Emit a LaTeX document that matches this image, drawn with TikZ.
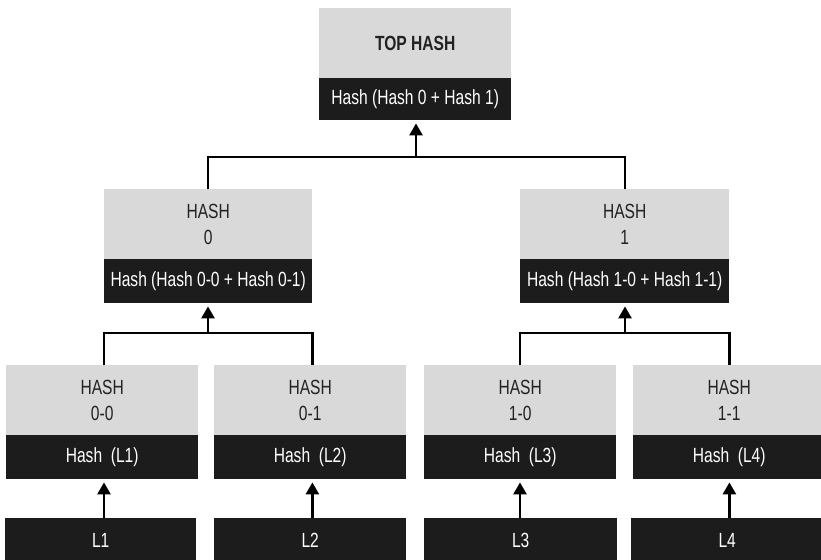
\documentclass[tikz,border=0pt]{standalone}
\usepackage{fontspec}
\setmainfont{Liberation Sans}[FakeStretch=0.76]
\usetikzlibrary{arrows.meta}
\definecolor{boxgray}{RGB}{217,217,217}
\definecolor{boxblack}{RGB}{28,28,28}
\definecolor{textdark}{RGB}{34,34,34}
\tikzset{
  lbl/.style={font=\fontsize{20.5}{26}\selectfont, align=center, inner sep=0pt, anchor=north west},
  gbox/.style={lbl, fill=boxgray, text=textdark, minimum height=70pt},
  bbox/.style={lbl, fill=boxblack, text=white, minimum height=44pt},
  bus/.style={line width=2.4pt, draw=black},
  arr/.style={line width=2.6pt, draw=black, -{Triangle[width=13pt,length=12pt]}, shorten >=3pt},
}
\begin{document}
\begin{tikzpicture}[x=1pt, y=-1pt]
\useasboundingbox (0,0) rectangle (821,559);
\clip (0,0) rectangle (821,559);

% root
\node[gbox, minimum width=192pt, minimum height=70pt] (topg) at (319,8) {\textbf{TOP HASH}};
\node[bbox, minimum width=192pt, minimum height=42pt] (topb) at (319,78) {Hash (Hash 0 + Hash 1)};

% second level
\node[gbox, minimum width=208pt] (h0g) at (104,189) {HASH\\0};
\node[bbox, minimum width=208pt] (h0b) at (104,259) {Hash (Hash 0-0 + Hash 0-1)};
\node[gbox, minimum width=209pt] (h1g) at (520,189) {HASH\\1};
\node[bbox, minimum width=209pt] (h1b) at (520,259) {Hash (Hash 1-0 + Hash 1-1)};

% third level
\node[gbox, minimum width=192pt] (h00g) at (6,365) {HASH\\0-0};
\node[bbox, minimum width=192pt] (h00b) at (6,435) {Hash\ \ (L1)};
\node[gbox, minimum width=192pt] (h01g) at (214,365) {HASH\\0-1};
\node[bbox, minimum width=192pt] (h01b) at (214,435) {Hash\ \ (L2)};
\node[gbox, minimum width=192pt] (h10g) at (424,365) {HASH\\1-0};
\node[bbox, minimum width=192pt] (h10b) at (424,435) {Hash\ \ (L3)};
\node[gbox, minimum width=192pt] (h11g) at (633,365) {HASH\\1-1};
\node[bbox, minimum width=192pt] (h11b) at (633,435) {Hash\ \ (L4)};

% leaves
\node[bbox, minimum width=191pt] (l1) at (5,518) {L1};
\node[bbox, minimum width=192pt] (l2) at (214,518) {L2};
\node[bbox, minimum width=193pt] (l3) at (424,518) {L3};
\node[bbox, minimum width=192pt] (l4) at (631,518) {L4};

% joins of the connector buses
\coordinate (jtop) at (416,157);
\coordinate (j0) at (208,333);
\coordinate (j1) at (625,333);

% root connector
\draw[bus] (h0g.north) |- (jtop) -| (h1g.north);
\draw[arr] (jtop) -- (topb.south -| jtop);

% second level connectors
\draw[bus] (h00g.north -| h0b.west) |- (j0) -| (h01g.north -| h0b.east);
\draw[arr] (j0) -- (h0b.south -| j0);
\draw[bus] (h10g.north -| h1b.west) |- (j1) -| (h11g.north -| h1b.east);
\draw[arr] (j1) -- (h1b.south -| j1);

% leaf arrows
\draw[arr] (l1.north -| h0b.west) -- (h00b.south -| h0b.west);
\draw[arr] (l2.north -| h0b.east) -- (h01b.south -| h0b.east);
\draw[arr] (l3.north -| h1b.west) -- (h10b.south -| h1b.west);
\draw[arr] (l4.north -| h1b.east) -- (h11b.south -| h1b.east);
\end{tikzpicture}
\end{document}
